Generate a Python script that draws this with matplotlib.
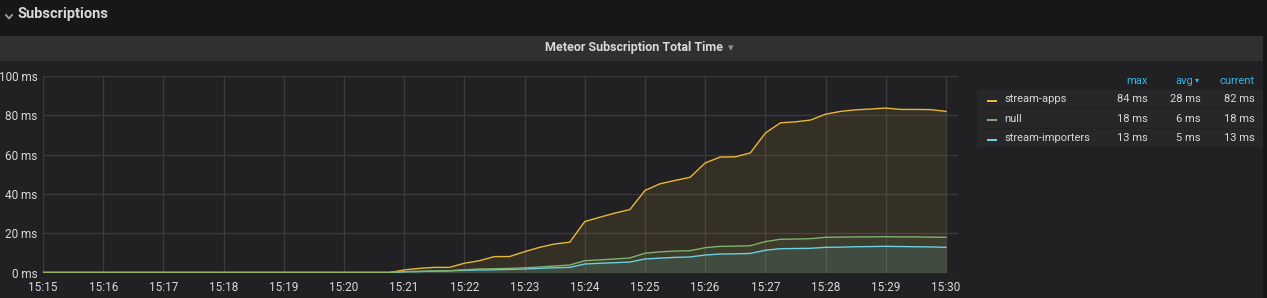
import numpy as np
import pandas as pd
import matplotlib
matplotlib.use('Agg')
import matplotlib.pyplot as plt
import matplotlib.dates as mdates
from matplotlib.ticker import FuncFormatter, MultipleLocator
from matplotlib.patches import Rectangle
from matplotlib.lines import Line2D

plt.rcParams['font.family'] = ['Roboto', 'DejaVu Sans']

# data: one point every 15 s from 15:15 to 15:30
times = pd.date_range('2020-01-01 15:15:00', '2020-01-01 15:30:00', freq='15s')

stream_apps = [0.0] * 24 + [
    1.4, 2.2, 2.7, 2.7, 4.8, 6.1, 8.2, 8.2, 10.7, 12.9, 14.6, 15.5,
    26.0, 28.2, 30.3, 32.1, 41.8, 45.2, 46.9, 48.5, 55.8, 58.8, 58.9, 60.9,
    71.0, 76.2, 76.7, 77.6, 80.6, 82.0, 82.8, 83.2, 83.7, 83.0, 83.0, 82.9, 82.0]
null_series = [0.3] * 24 + [
    0.5, 0.7, 0.9, 1.0, 1.5, 1.9, 2.0, 2.2, 2.5, 2.9, 3.4, 3.9,
    6.1, 6.5, 7.0, 7.5, 9.9, 10.6, 11.0, 11.2, 12.7, 13.4, 13.5, 13.7,
    15.8, 17.0, 17.1, 17.3, 18.0, 18.1, 18.2, 18.2, 18.3, 18.2, 18.2, 18.1, 18.0]
stream_importers = [0.0] * 24 + [
    0.5, 0.6, 0.8, 1.0, 1.2, 1.4, 1.5, 1.7, 1.9, 2.2, 2.5, 2.7,
    4.4, 4.8, 5.1, 5.4, 7.0, 7.4, 7.8, 8.0, 9.0, 9.5, 9.6, 9.8,
    11.4, 12.2, 12.3, 12.4, 12.9, 13.0, 13.2, 13.3, 13.4, 13.3, 13.2, 13.1, 12.9]

series_names = ['stream-apps', 'null', 'stream-importers']
series_data = [stream_apps, null_series, stream_importers]
series_colors = ['#EAB839', '#7EB26D', '#6ED0E0']
legend_max = ['84 ms', '18 ms', '13 ms']
legend_avg = ['28 ms', '6 ms', '5 ms']
legend_cur = ['82 ms', '18 ms', '13 ms']

W, H = 1267, 298
fig = plt.figure(figsize=(W / 100, H / 100), dpi=100)
fig.patch.set_facecolor('#161719')

def px(x, y):
    # pixel coords (top-left origin) -> figure fraction
    return x / W, 1 - y / H

# panel background + title bar
fig.patches.append(Rectangle((0, 0), 1263 / W, 1 - 36 / H, transform=fig.transFigure,
                             facecolor='#212124', edgecolor='none', zorder=-2))
fig.patches.append(Rectangle((0, 1 - 61 / H), 1263 / W, 25 / H, transform=fig.transFigure,
                             facecolor='#303033', edgecolor='none', zorder=-2))

# header
fig.lines.append(Line2D([6 / W, 9 / W, 12 / W], [1 - 15 / H, 1 - 18.5 / H, 1 - 15 / H],
                        transform=fig.transFigure, color='#9fa0a3', linewidth=1.3))
fig.text(*px(18, 14), 'Subscriptions', color='#d8d9da', fontsize=10.5,
         fontweight='bold', ha='left', va='center')
fig.text(*px(634, 48), 'Meteor Subscription Total Time', color='#d8d9da', fontsize=9,
         fontweight='bold', ha='center', va='center')
fig.text(*px(731, 48), '▾', color='#8e8e8e', fontsize=8, ha='center', va='center',
         family=['DejaVu Sans'])

# chart
left, right, top, bottom = 43, 958, 76, 272.7
ax = fig.add_axes([left / W, 1 - bottom / H, (right - left) / W, (bottom - top) / H])
ax.set_facecolor('none')
ax.set_zorder(1)

for name, vals, col in zip(series_names, series_data, series_colors):
    ax.fill_between(times, 0, vals, color=col, alpha=0.1, linewidth=0)
# draw importers first so the null line sits on top along the baseline
for i in [2, 0, 1]:
    ax.plot(times, series_data[i], color=series_colors[i], linewidth=1)

ax.set_ylim(0, 100)
ax.set_xlim(times[0], times[-1] + pd.Timedelta(seconds=12))
ax.yaxis.set_major_locator(MultipleLocator(20))
ax.yaxis.set_major_formatter(FuncFormatter(lambda v, p: f'{int(v)} ms'))
ax.xaxis.set_major_locator(mdates.MinuteLocator())
ax.xaxis.set_major_formatter(mdates.DateFormatter('%H:%M'))
ax.grid(True, color='#3a3a3d', linewidth=1)
ax.set_axisbelow(True)
for s in ax.spines.values():
    s.set_visible(False)
ax.tick_params(colors='#d8d9da', labelsize=8.5, length=0)
ax.tick_params(axis='x', pad=6)
ax.tick_params(axis='y', pad=4)

# legend table
hx = {'max': 1148, 'avg': 1201, 'current': 1255}
fig.text(*px(hx['max'], 81), 'max', color='#33b5e5', fontsize=8, ha='right', va='center')
fig.text(*px(hx['avg'] - 8, 81), 'avg', color='#33b5e5', fontsize=8, ha='right', va='center')
fig.text(*px(hx['avg'] - 4, 80), '▾', color='#33b5e5', fontsize=6, ha='center', va='center',
         family=['DejaVu Sans'])
fig.text(*px(hx['current'], 81), 'current', color='#33b5e5', fontsize=8, ha='right', va='center')

row_y = [99, 118.5, 138]
for i, name in enumerate(series_names):
    y = row_y[i]
    fig.patches.append(Rectangle(px(977, y + 9.5), (1263 - 977) / W, 18.5 / H,
                                 transform=fig.transFigure, facecolor='#27272a',
                                 edgecolor='none', zorder=-1))
    fig.patches.append(Rectangle(px(987, y + 2.5), 10 / W, 2 / H, transform=fig.transFigure,
                                 facecolor=series_colors[i], edgecolor='none', zorder=1))
    fig.text(*px(1004, y), name, color='#d8d9da', fontsize=8, ha='left', va='center')
    fig.text(*px(hx['max'], y), legend_max[i], color='#d8d9da', fontsize=8, ha='right', va='center')
    fig.text(*px(hx['avg'], y), legend_avg[i], color='#d8d9da', fontsize=8, ha='right', va='center')
    fig.text(*px(hx['current'], y), legend_cur[i], color='#d8d9da', fontsize=8, ha='right', va='center')

fig.savefig('out.png', dpi=100, facecolor=fig.get_facecolor())
